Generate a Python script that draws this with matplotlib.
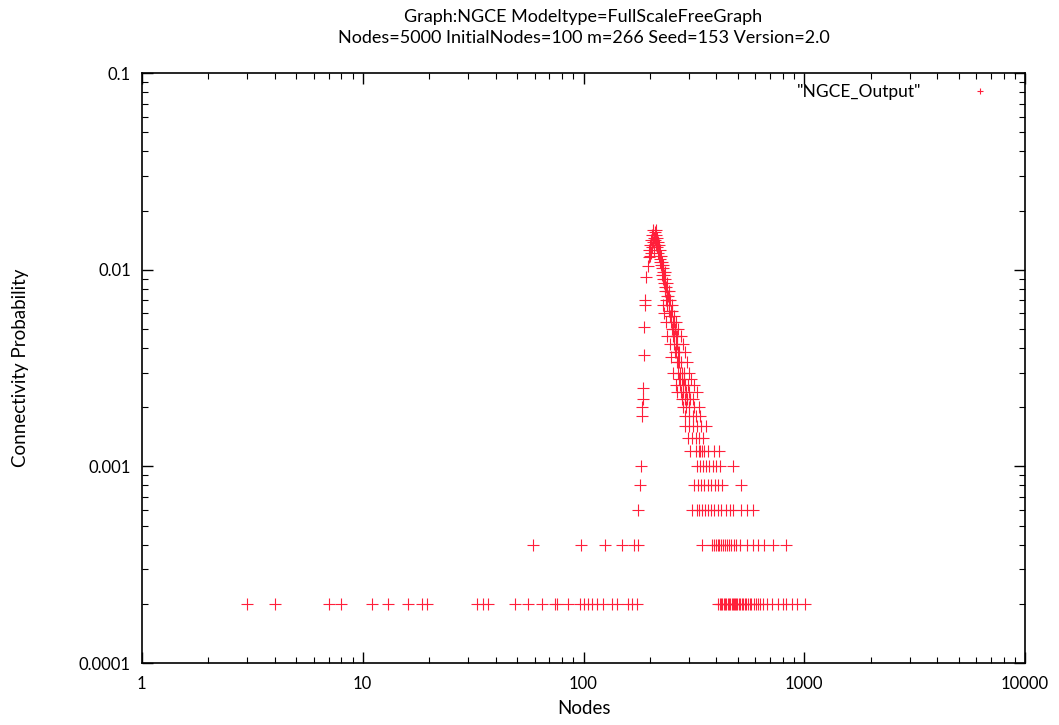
import matplotlib
matplotlib.use("Agg")
import matplotlib.pyplot as plt
from matplotlib.ticker import LogLocator, FuncFormatter, NullFormatter

plt.rcParams['font.family'] = ['Lato', 'DejaVu Sans']

# degree values per probability level (count / 5000 nodes)
deg_p0002 = [3, 4, 7, 8, 11, 13, 16, 18.5, 19.5, 33, 35, 37, 49, 56, 65, 74, 76, 85,
             96, 101, 105, 109, 115, 122, 134, 142, 159, 166, 175,
             407, 414, 420, 426, 432, 438, 444, 450, 456, 462, 468, 474, 480, 486,
             492, 498, 505, 512, 520, 528, 536, 545, 555, 565, 575, 590, 605, 620,
             630, 650, 680, 712, 757, 800, 830, 875, 925, 1005]
deg_p0004 = [59, 97, 125, 150, 170, 176,
             343, 380, 390, 398, 405, 412, 420, 428, 436, 445, 455, 466, 478, 492,
             510, 550, 585, 615, 660, 718, 825]
deg_p0006 = [176, 310, 325, 335, 345, 355, 365, 377, 390, 405, 420, 440, 460, 475,
             515, 550, 585]
deg_p0008 = [181, 317, 330, 342, 353, 365, 378, 392, 408, 425, 515]
deg_p0010 = [182, 325, 337, 348, 360, 372, 385, 398, 413, 475]
deg_p0012 = [305, 322, 332, 338, 344, 352, 365, 390, 412]
deg_p0014 = [298, 310, 322, 334, 348]
deg_p0016 = [288, 300, 313, 326, 342, 360]
deg_p0018 = [184, 288, 300, 312, 324, 337]
deg_p0020 = [184, 282, 292, 302, 318, 332]

low_levels = [0.0002, 0.0004, 0.0006, 0.0008, 0.0010, 0.0012, 0.0014, 0.0016, 0.0018, 0.0020]
low_degs = [deg_p0002, deg_p0004, deg_p0006, deg_p0008, deg_p0010,
            deg_p0012, deg_p0014, deg_p0016, deg_p0018, deg_p0020]

# steep band above 0.002
band_deg = [207, 212, 210, 205, 214, 209, 216, 203, 211, 206, 218, 201, 213, 220,
            204, 215, 199, 208, 222, 202, 217, 200, 219, 224, 221, 223, 226, 225,
            227, 229, 228, 226, 231, 230, 233, 232, 234, 236, 235, 239, 238, 241,
            237, 243, 246, 240, 245, 244, 248, 251, 247, 250, 249, 253, 256, 252,
            255, 259, 254, 258, 262, 266, 257, 261, 264, 260, 263, 268, 272, 265,
            267, 271, 276, 269, 274, 279, 284, 270, 278, 286, 273, 281, 289, 296,
            277, 283, 292, 300, 280, 287, 295, 305, 312,
            185, 186, 187, 188, 189, 190, 192, 195, 197]
band_p = [0.016, 0.016, 0.0156, 0.015, 0.015, 0.0146, 0.0146, 0.0142, 0.0142, 0.0138,
          0.0138, 0.0134, 0.0134, 0.0134, 0.013, 0.013, 0.0126, 0.0126, 0.0126, 0.0122,
          0.0122, 0.0118, 0.0118, 0.0118, 0.0114, 0.011, 0.011, 0.0106, 0.0102, 0.0102,
          0.0098, 0.0094, 0.0094, 0.009, 0.009, 0.0086, 0.0082, 0.0082, 0.0078, 0.0078,
          0.0074, 0.0074, 0.007, 0.007, 0.007, 0.0066, 0.0066, 0.0062, 0.0062, 0.0062,
          0.0058, 0.0058, 0.0054, 0.0054, 0.0054, 0.005, 0.005, 0.005, 0.0046, 0.0046,
          0.0046, 0.0046, 0.0042, 0.0042, 0.0042, 0.0038, 0.0038, 0.0038, 0.0038, 0.0034,
          0.0034, 0.0034, 0.0034, 0.003, 0.003, 0.003, 0.003, 0.0028, 0.0028, 0.0028,
          0.0026, 0.0026, 0.0026, 0.0026, 0.0024, 0.0024, 0.0024, 0.0024, 0.0022, 0.0022,
          0.0022, 0.0022, 0.0022,
          0.0022, 0.0025, 0.0037, 0.0051, 0.0066, 0.007, 0.0092, 0.0104, 0.0116]

# outliers spread around the band
spread_deg = [230, 235, 240, 245, 252, 258, 262, 268, 275, 282, 288, 295, 300, 308,
              315, 325, 228, 232, 236, 240, 246, 250, 255, 262, 266]
spread_p = [0.0106, 0.0098, 0.0086, 0.0078, 0.0066, 0.0058, 0.0054, 0.005, 0.0046,
            0.0042, 0.0038, 0.0034, 0.003, 0.0028, 0.0026, 0.0024, 0.0066, 0.006,
            0.0054, 0.0046, 0.0042, 0.0036, 0.003, 0.0026, 0.0024]

xs = []
ys = []
for lvl, degs in zip(low_levels, low_degs):
    xs += degs
    ys += [lvl] * len(degs)
xs += band_deg + spread_deg
ys += band_p + spread_p

fig = plt.figure(figsize=(10.59, 7.25), dpi=100)
ax = fig.add_axes([0.134, 0.0855, 0.834, 0.8135])

ax.plot(xs, ys, '+', color='#ff1f3a', ms=9, mew=0.8, label='"NGCE_Output"')

ax.set_xscale('log')
ax.set_yscale('log')
ax.set_xlim(1, 10000)
ax.set_ylim(0.0001, 0.1)

fmt = FuncFormatter(lambda v, pos: '%g' % v)
ax.xaxis.set_major_formatter(fmt)
ax.yaxis.set_major_formatter(fmt)
ax.xaxis.set_minor_locator(LogLocator(base=10, subs=range(2, 10)))
ax.yaxis.set_minor_locator(LogLocator(base=10, subs=range(2, 10)))
ax.xaxis.set_minor_formatter(NullFormatter())
ax.yaxis.set_minor_formatter(NullFormatter())
ax.tick_params(which='both', direction='in', top=True, right=True, labelsize=12)
ax.tick_params(which='major', length=8, width=1)
ax.tick_params(which='minor', length=4, width=0.8)
ax.tick_params(axis='x', pad=9)
ax.tick_params(axis='y', pad=8)
for s in ax.spines.values():
    s.set_linewidth(1.2)

ax.set_xlabel('Nodes', fontsize=13.5, labelpad=6)
ax.set_ylabel('Connectivity Probability', fontsize=13.5, labelpad=36)
ax.set_title('Graph:NGCE Modeltype=FullScaleFreeGraph\n'
             'Nodes=5000 InitialNodes=100 m=266 Seed=153 Version=2.0',
             fontsize=13, pad=22, linespacing=1.35)

ax.legend(loc='upper right', markerfirst=False, frameon=False, fontsize=12.5,
          handlelength=4, handletextpad=1.4, borderaxespad=0.2, markerscale=0.5)

fig.savefig('out.png', dpi=100)
